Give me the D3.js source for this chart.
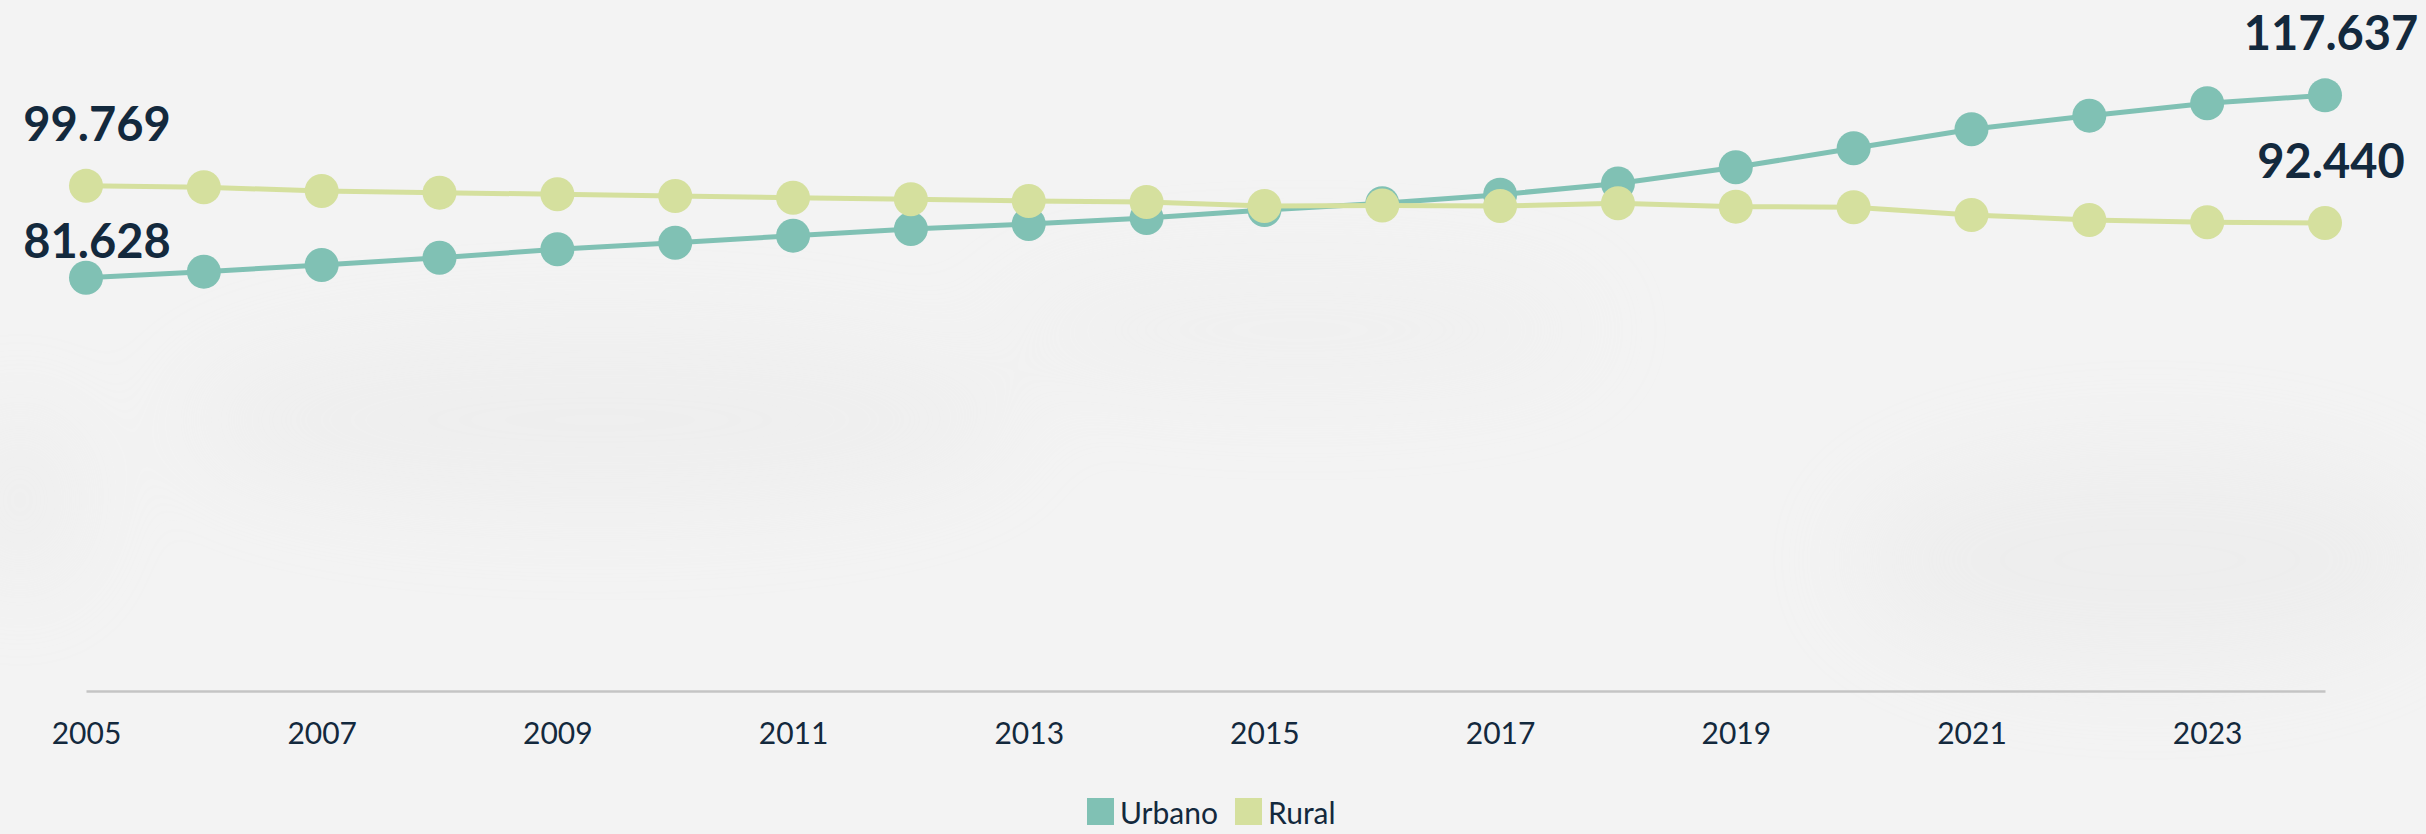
<!DOCTYPE html>
<html lang="es">
<head>
<meta charset="UTF-8">
<style>
    body {margin: 0; background: #f3f3f3;}
    svg {display: block;}
    .tick-label {font: 30px Lato, "Open Sans", sans-serif; fill: #13293d;}
    .value-label {font: bold 47px Lato, "Open Sans", sans-serif; fill: #13293d;}
    .legend-label {font: 30px Lato, "Open Sans", sans-serif; fill: #13293d;}
</style>
</head>
<body>
<div id="chart"></div>

<script src="https://d3js.org/d3.v7.min.js"></script>
<script>

// data
var years = [2005, 2006, 2007, 2008, 2009, 2010, 2011, 2012, 2013, 2014,
             2015, 2016, 2017, 2018, 2019, 2020, 2021, 2022, 2023, 2024];
var urbano = [81628, 82820, 84140, 85580, 87240, 88540, 89930, 91250, 92240, 93420,
              95000, 96330, 98030, 100240, 103440, 107190, 110940, 113630, 116080, 117637];
var rural = [99769, 99490, 98760, 98420, 98100, 97770, 97430, 97120, 96780, 96580,
             95790, 95890, 95790, 96330, 95660, 95550, 94020, 93030, 92570, 92440];
var tickYears = [2005, 2007, 2009, 2011, 2013, 2015, 2017, 2019, 2021, 2023];
var seriesNames = ["Urbano", "Rural"];

var colors = {Urbano: "#80c1b4", Rural: "#d5e09e"};

var width = 2426, height = 834;

var svg = d3.select("#chart")
    .append("svg")
    .attr("width", width)
    .attr("height", height);

// soft paper texture in the background
var defs = svg.append("defs");
defs.append("filter").attr("id", "blur")
    .attr("x", "-50%").attr("y", "-50%").attr("width", "200%").attr("height", "200%")
    .append("feGaussianBlur").attr("stdDeviation", 50);

var bg = svg.append("g").attr("filter", "url(#blur)").attr("opacity", 0.3);
bg.append("ellipse").attr("cx", 600).attr("cy", 420).attr("rx", 420).attr("ry", 90).attr("fill", "#e4e4e4");
bg.append("ellipse").attr("cx", 2150).attr("cy", 560).attr("rx", 300).attr("ry", 110).attr("fill", "#e2e2e2");
bg.append("ellipse").attr("cx", 20).attr("cy", 500).attr("rx", 60).attr("ry", 90).attr("fill", "#e2e2e2");
bg.append("ellipse").attr("cx", 1300).attr("cy", 330).attr("rx", 300).attr("ry", 60).attr("fill", "#e8e8e8");

// scales
var x = d3.scaleLinear().domain([2005, 2024]).range([86, 2325]);
var y = d3.scaleLinear().domain([0, 120000]).range([691, 691 - 607.6]);

var fmt = d3.formatLocale({decimal: ",", thousands: ".", grouping: [3], currency: ["$", ""]}).format(",");

// x axis
var xAxis = svg.append("g")
    .attr("transform", "translate(0," + y(0) + ")")
    .call(d3.axisBottom(x).tickValues(tickYears).tickFormat(d3.format("d")).tickSize(0).tickPadding(32));
xAxis.select(".domain").attr("stroke", "#c4c4c4").attr("stroke-width", 2.5);
xAxis.selectAll("text").attr("class", "tick-label").attr("fill", null).attr("font-size", null).attr("font-family", null);

var series = [
    {name: "Urbano", values: urbano},
    {name: "Rural", values: rural}
];

var line = d3.line()
    .x(function(d, i) { return x(years[i]); })
    .y(function(d) { return y(d); });

// lines and points
series.forEach(function(s) {
    var g = svg.append("g");
    g.append("path")
        .datum(s.values)
        .attr("d", line)
        .attr("fill", "none")
        .attr("stroke", colors[s.name])
        .attr("stroke-width", 5);
    g.selectAll("circle")
        .data(s.values)
        .enter().append("circle")
        .attr("cx", function(d, i) { return x(years[i]); })
        .attr("cy", function(d) { return y(d); })
        .attr("r", 17)
        .attr("fill", colors[s.name]);
});

// first and last value labels
series.forEach(function(s) {
    var last = s.values.length - 1;
    [0, last].forEach(function(i) {
        // the first urban label sits lower so it does not hit the rural line
        var off = (s.name === "Urbano" && i === 0) ? 20 : 45;
        svg.append("text")
            .attr("class", "value-label")
            .attr("x", x(years[i]) + (i === 0 ? 11 : 6))
            .attr("y", y(s.values[i]) - off)
            .attr("text-anchor", "middle")
            .text(fmt(s.values[i]));
    });
});

// legend
var legend = svg.append("g").attr("transform", "translate(1087,798)");
var lx = 0;
seriesNames.forEach(function(name) {
    legend.append("rect")
        .attr("x", lx).attr("y", 0)
        .attr("width", 27).attr("height", 27)
        .attr("fill", colors[name]);
    var t = legend.append("text")
        .attr("class", "legend-label")
        .attr("x", lx + 33)
        .attr("y", 26)
        .text(name);
    lx += 33 + t.node().getComputedTextLength() + 17;
});

</script>
</body>
</html>
